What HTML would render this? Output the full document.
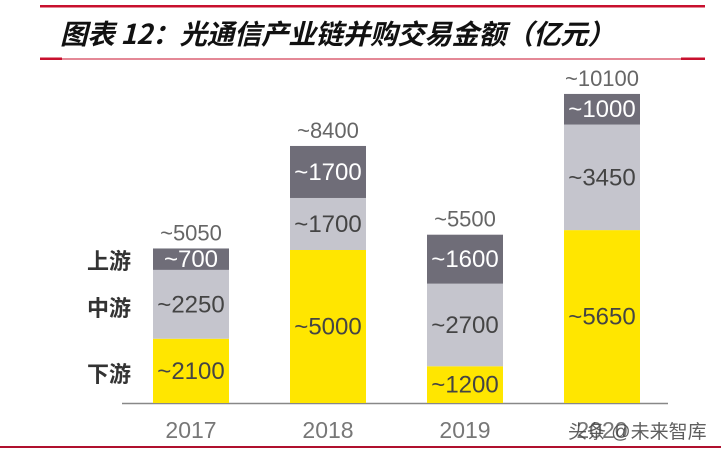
<!DOCTYPE html>
<html><head><meta charset="utf-8"><style>
body{margin:0;background:#fff;width:721px;height:448px;overflow:hidden;font-family:"Liberation Sans","Noto Sans CJK SC",sans-serif}
</style></head><body>
<svg width="721" height="448" id="svg">
<rect x="40" y="5" width="665" height="2.5" fill="#c8102e"/>
<text x="60" y="44" font-size="27.5" font-weight="bold" font-style="italic" fill="#111" textLength="555" font-family="'Noto Sans CJK SC',sans-serif">图表 12：光通信产业链并购交易金额（亿元）</text>
<rect x="40" y="57.5" width="22" height="2.5" fill="#c8102e"/>
<rect x="62" y="58.5" width="619" height="1" fill="#c8102e"/>
<rect x="681" y="57.5" width="24" height="2.5" fill="#c8102e"/>
<rect x="0" y="446" width="721" height="2" fill="#b0102e"/>
<line x1="122" y1="403.5" x2="668" y2="403.5" stroke="#888" stroke-width="1.5"/>
<text x="131" y="269" font-size="22" font-weight="bold" fill="#333" text-anchor="end">上游</text>
<text x="131" y="316" font-size="22" font-weight="bold" fill="#333" text-anchor="end">中游</text>
<text x="131" y="382" font-size="22" font-weight="bold" fill="#333" text-anchor="end">下游</text>
<g id="bars"></g>
<text x="568" y="438" font-size="19" fill="#444" opacity="0.85">头条 @未来智库</text>
</svg>
<script>
const years=["2017","2018","2019","2020"];
const down=[2100,5000,1200,5650];
const mid=[2250,1700,2700,3450];
const up=[700,1700,1600,1000];
const totals=["~5050","~8400","~5500","~10100"];
const base=403, k=0.0306, bw=76, x0=153, step=137;
const y=v=>base-v*k;
const g=document.getElementById('bars');
const NS="http://www.w3.org/2000/svg";
function mk(t,a){const e=document.createElementNS(NS,t);for(const p in a)e.setAttribute(p,a[p]);g.appendChild(e);return e;}
const segs=[[down,"#ffe600","#444","down"],[mid,"#c5c5cd","#444","mid"],[up,"#6f6d78","#fff","up"]];
years.forEach((yr,i)=>{
  const x=x0+i*step;let acc=0;
  segs.forEach(([arr,col,tc,nm])=>{
    const v=arr[i];const t=y(acc+v),h=v*k;
    const r=mk('rect',{x:x,y:t,width:bw,height:h,fill:col});
    
    
    const tx=mk('text',{x:x+bw/2,y:t+h/2+8,'font-size':24,fill:tc,'text-anchor':'middle'});
    tx.textContent='~'+v;
    
    
    acc+=v;
  });
  const tt=mk('text',{x:x+bw/2,y:y(acc)-8,'font-size':22,fill:'#666','text-anchor':'middle'});
  tt.textContent=totals[i];
  
  
  const yl=mk('text',{x:x+bw/2,y:438,'font-size':23,fill:'#777','text-anchor':'middle'});
  yl.textContent=yr;
  
  
});
</script>
</body></html>
